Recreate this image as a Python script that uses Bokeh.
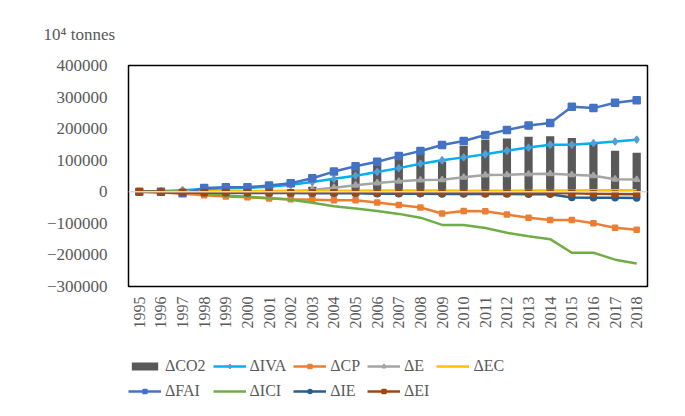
from bokeh.plotting import figure
from bokeh.layouts import column
from bokeh.models import (Range1d, FactorRange, Legend, LegendItem, Span, Title,
                          FixedTicker, BasicTickFormatter)
from bokeh.embed import file_html
from bokeh.resources import INLINE

years = [str(y) for y in range(1995, 2019)]
y_ticks = [-300000, -200000, -100000, 0, 100000, 200000, 300000, 400000]

d_co2 = [0, 1000, -3000, 3000, -2000, -4000, 1000, 4000, 16000, 37000, 72000, 84000,
         110000, 120000, 96000, 146000, 165000, 169000, 174000, 176000, 170000, 152000,
         130000, 124000]
d_iva = [0, 2000, 5000, 9000, 11000, 12000, 16000, 22000, 31000, 41000, 51000, 63000,
         75000, 89000, 100000, 109000, 119000, 130000, 140000, 149000, 149000, 154000,
         159000, 165000]
d_cp = [0, -2000, -6000, -11000, -15000, -17000, -21000, -24000, -25000, -27000, -27000,
        -34000, -42000, -50000, -69000, -61000, -62000, -72000, -82000, -89000, -89000,
        -100000, -114000, -120000]
d_e = [0, 500, 1000, 0, -1000, -2000, -1000, 0, 6000, 13000, 21000, 28000, 33000, 37000,
       38000, 46000, 53000, 54000, 56000, 57000, 54000, 51000, 40000, 39000]
d_ec = [0, 500, 1000, 1500, 2000, 2000, 2500, 3000, 3000, 3500, 3500, 4000, 4000, 4000,
        4000, 3500, 3500, 3500, 4000, 4000, 4000, 4500, 4500, 4500]
d_fai = [0, 0, -5000, 12000, 14000, 14000, 20000, 27000, 43000, 64000, 81000, 95000,
         113000, 129000, 148000, 161000, 180000, 196000, 210000, 218000, 269000, 265000,
         282000, 290000]
d_ici = [0, 1000, 2000, -5000, -12000, -16000, -20000, -25000, -35000, -46000, -53000,
         -61000, -70000, -82000, -105000, -105000, -115000, -130000, -141000, -150000,
         -193000, -193000, -215000, -227000]
d_ie = [0, -1000, -2000, -3000, -3000, -4000, -4000, -4000, -5000, -5000, -5000, -6000,
        -6000, -6000, -7000, -7000, -7000, -7000, -8000, -8000, -18000, -19000, -19000,
        -20000]
d_ei = [0, -1000, -1500, -2000, -2000, -2500, -2500, -3000, -3000, -3000, -3000, -3000,
        -3000, -3000, -3000, -3000, -3500, -3500, -4000, -4000, -5000, -6000, -7000, -8000]

labels = ["\u0394CO2", "\u0394IVA", "\u0394CP", "\u0394E", "\u0394EC",
          "\u0394FAI", "\u0394ICI", "\u0394IE", "\u0394EI"]

FONT = "Liberation Serif"
GREY = "#595959"

STYLE = [
    ("#00B0F0", "diamond", "#5B9BD5", 7),
    ("#ED7D31", "square", "#ED7D31", 5),
    ("#A5A5A5", "triangle", "#A5A5A5", 6),
    ("#FFC000", None, None, 0),
    ("#4472C4", "square", "#4472C4", 7),
    ("#70AD47", None, None, 0),
    ("#255E91", "circle", "#255E91", 6),
    ("#9E480E", "square_x", "#9E480E", 6),
]
series_data = [d_iva, d_cp, d_e, d_ec, d_fai, d_ici, d_ie, d_ei]


def draw_series(fig):
    """Draw the bars and the eight lines on fig; return the legend items."""
    items = [LegendItem(label=labels[0],
                        renderers=[fig.vbar(x=years, top=d_co2, width=0.38,
                                            fill_color="#595959", line_color=None)])]
    for lab, vals, (col, mk, mcol, ms) in zip(labels[1:], series_data, STYLE):
        rs = [fig.line(x=years, y=vals, line_color=col, line_width=2.5)]
        if mk:
            rs.append(fig.scatter(x=years, y=vals, marker=mk, size=ms,
                                  fill_color=mcol, line_color=mcol, line_width=1.5))
        items.append(LegendItem(label=lab, renderers=rs))
    return items


# ---------------- main chart ----------------
p = figure(x_range=FactorRange(*years), y_range=Range1d(-300000, 400000),
           width=669, height=340, output_backend="svg", toolbar_location=None,
           min_border_left=128, min_border_right=22, min_border_top=64,
           min_border_bottom=54, background_fill_color="white",
           border_fill_color="white")

p.outline_line_color = "black"
p.outline_line_width = 1.5
p.xgrid.visible = False
p.ygrid.visible = False

p.title = Title(text="10\u2074 tonnes", align="left", offset=-85, standoff=44,
                text_font=FONT, text_font_size="17px", text_font_style="normal",
                text_color=GREY)

p.yaxis.ticker = FixedTicker(ticks=y_ticks)
p.yaxis.formatter = BasicTickFormatter(use_scientific=False)
for ax in (p.xaxis, p.yaxis):
    ax.axis_line_color = None
    ax.major_tick_line_color = None
    ax.minor_tick_line_color = None
    ax.major_label_text_font = FONT
    ax.major_label_text_color = GREY
p.yaxis.major_label_text_font_size = "17px"
p.yaxis.major_label_standoff = 15
p.xaxis.major_label_text_font_size = "16px"
p.xaxis.major_label_orientation = 1.5708
p.xaxis.major_label_standoff = 4

p.add_layout(Span(location=0, dimension="width", line_color="#d9d9d9", line_width=1.5))
draw_series(p)

# ---------------- legend strip (same series, scrolled out of view) ----------------
lg = figure(x_range=FactorRange(*years), y_range=Range1d(1e7, 2e7),
            width=669, height=60, output_backend="svg", toolbar_location=None,
            min_border=0, x_axis_location=None, y_axis_location=None,
            background_fill_color="white", border_fill_color="white")
lg.outline_line_color = None
lg.xgrid.visible = False
lg.ygrid.visible = False

legend = Legend(items=draw_series(lg), orientation="horizontal", nrows=2,
                location=(0, 0), padding=0, margin=0, spacing=7,
                glyph_width=33, glyph_height=10, label_width=20, label_height=10,
                label_standoff=4, label_text_font=FONT, label_text_font_size="16px",
                label_text_color=GREY, border_line_color=None,
                background_fill_alpha=0)
lg.add_layout(legend, "center")

layout = column(p, lg, spacing=0)
open("out.html", "w").write(file_html(layout, INLINE))
